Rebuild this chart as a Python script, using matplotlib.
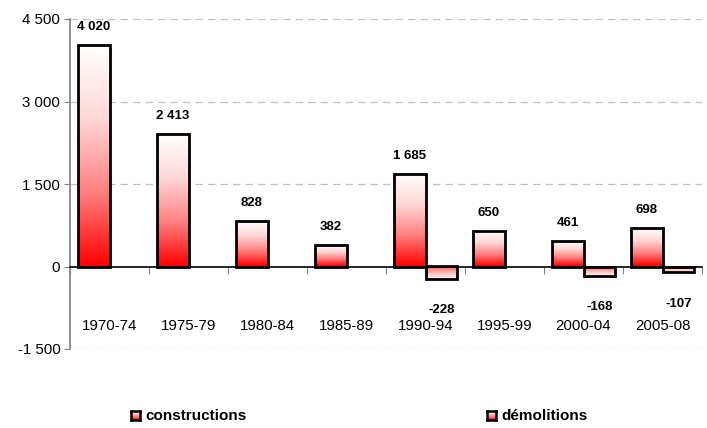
import numpy as np
import matplotlib
matplotlib.use("Agg")
import matplotlib.pyplot as plt
from matplotlib.colors import LinearSegmentedColormap
from matplotlib.patches import Rectangle
from matplotlib.ticker import FuncFormatter

# Data
periods = ["1970-74", "1975-79", "1980-84", "1985-89", "1990-94", "1995-99", "2000-04", "2005-08"]
constructions = [4020, 2413, 828, 382, 1685, 650, 461, 698]
demolitions = [None, None, None, None, -228, None, -168, -107]

plt.rcParams["font.family"] = ["Liberation Sans", "DejaVu Sans"]

fig = plt.figure(figsize=(7.07, 4.28), dpi=100)
ax = fig.add_axes([70 / 707, 1 - 349 / 428, 632 / 707, 330 / 428])

cmap = LinearSegmentedColormap.from_list("wr", ["#ffffff", "#ffd8d8", "#ff8080", "#ff0000"])
grad = np.linspace(0, 1, 256).reshape(-1, 1)

def gradient_bar(x0, w, v):
    y0, y1 = (0, v) if v >= 0 else (v, 0)
    # positive bars: white on top, red at base; negative: red at axis, pale at tip
    img = grad if v >= 0 else 0.15 + grad[::-1] * 0.65
    im = ax.imshow(img, cmap=cmap, vmin=0, vmax=1, aspect="auto",
                   extent=(x0, x0 + w, y0, y1), origin="upper", zorder=2)
    rect = Rectangle((x0, y0), w, y1 - y0, facecolor="none", edgecolor="black",
                     linewidth=2, zorder=3)
    ax.add_patch(rect)
    im.set_clip_path(rect)

bw = 0.405
x = np.arange(len(periods))
for i, v in enumerate(constructions):
    gradient_bar(x[i] - bw, bw, v)
    ax.text(x[i] - bw / 2, v + 330, f"{v:,}".replace(",", " "), ha="center", va="center",
            fontsize=9.5, fontweight="bold")
for i, v in enumerate(demolitions):
    if v is None:
        continue
    gradient_bar(x[i], bw, v)
    ax.text(x[i] + bw / 2, v - 570, f"{v:,}".replace(",", " "), ha="center", va="center",
            fontsize=9.5, fontweight="bold")

for i, p in enumerate(periods):
    ax.text(x[i], -1080, p, ha="center", va="center", fontsize=10.8)

ax.set_xlim(-0.5, len(periods) - 0.5)
ax.set_ylim(-1500, 4500)
ax.set_yticks([-1500, 0, 1500, 3000, 4500])
ax.yaxis.set_major_formatter(FuncFormatter(lambda v, p: f"{int(v):,}".replace(",", " ")))
ax.tick_params(axis="y", labelsize=10.8, length=4, color="#808080", pad=3)
ax.set_xticks(np.arange(len(periods) + 1) - 0.5)
ax.set_xticklabels([])
ax.tick_params(axis="x", length=5, direction="out", color="#808080")

for s in ["top", "right"]:
    ax.spines[s].set_visible(False)
ax.spines["left"].set_color("#808080")
ax.spines["left"].set_linewidth(1.2)
ax.spines["bottom"].set_position(("data", 0))
ax.spines["bottom"].set_color("black")
ax.spines["bottom"].set_linewidth(1.2)
ax.spines["bottom"].set_zorder(4)

for g in [-1500, 1500, 3000, 4500]:
    ax.axhline(g, color="#c0c0c0", linewidth=0.9, linestyle=(0, (6, 4)), zorder=1)

# Legend
for lx, label in [(131, "constructions"), (487, "démolitions")]:
    lax = fig.add_axes([lx / 707, 1 - 420 / 428, 9 / 707, 9 / 428])
    lax.imshow(grad, cmap=cmap, vmin=0, vmax=1, aspect="auto")
    lax.set_xticks([])
    lax.set_yticks([])
    for s in lax.spines.values():
        s.set_linewidth(1.8)
    fig.text((lx + 14) / 707, 1 - 415.5 / 428, label, ha="left", va="center",
             fontsize=11, fontweight="bold")

fig.savefig("out.png", dpi=100)
